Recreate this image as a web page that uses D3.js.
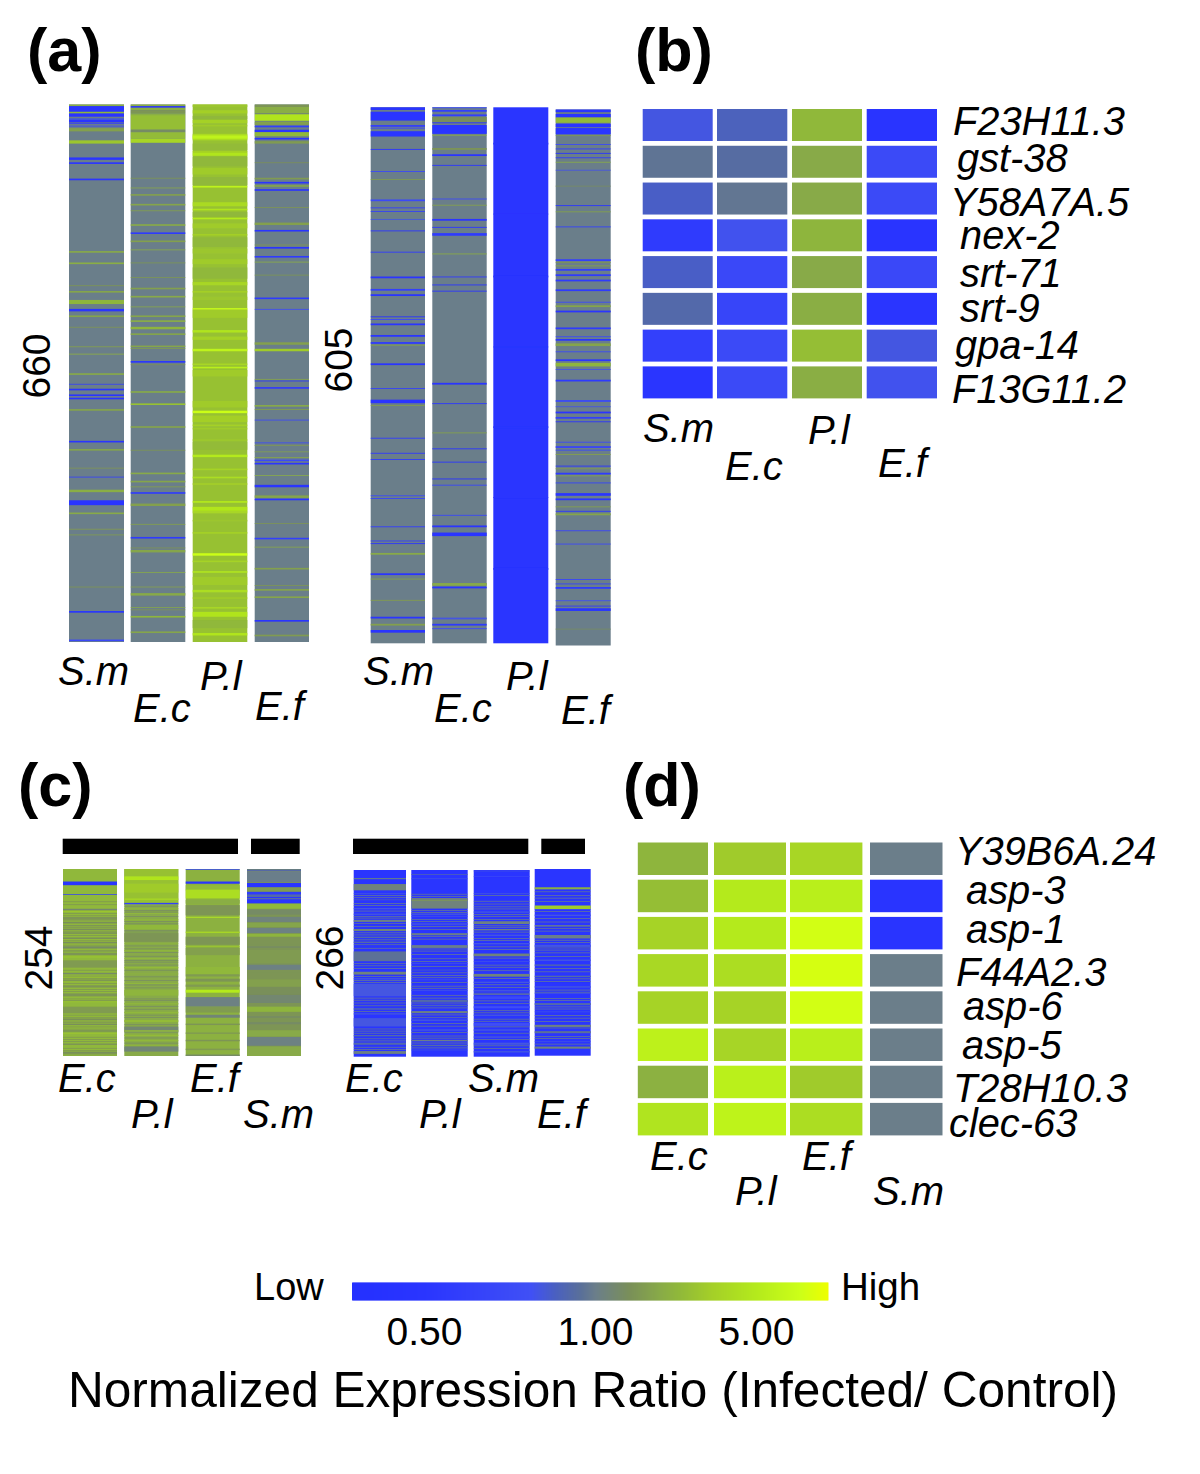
<!DOCTYPE html>
<html><head><meta charset="utf-8">
<script src="https://cdn.jsdelivr.net/npm/d3@7"></script>
<style>html,body{margin:0;background:#fff}svg{display:block}text{font-family:"Liberation Sans",Arial,sans-serif;fill:#000}</style>
</head><body><svg id="c" width="1200" height="1474"><defs><filter id="soft" x="-2%" y="-2%" width="104%" height="104%"><feGaussianBlur stdDeviation="0.35"/></filter></defs></svg>
<script>
// ---------- data: each column = base ratio + stripes [firstRow, rowSpan, ratio] ----------
const a1Sm=[[0,2,2],[2,7,.4],[9,2,2.2],[11,4,.4],[17,2,.8],[19,3,.4],[23,1,.6],[26,1,.7],[29,4,1.7],[44,4,2.8],[65,3,.4],[71,2,.5],[91,2,.45],[180,2,1.9],[194,2,2],[222,1,1.5],[229,2,1.8],[240,5,2.2],[251,3,.45],[259,2,1.8],[273,1,1.5],[297,1,1.7],[306,1,2],[330,2,1.9],[343,1,.6],[349,2,.5],[356,2,.5],[360,2,.45],[374,2,1.8],[413,2,.5],[423,2,1.8],[446,1,1.5],[457,1,.6],[473,3,2],[486,6,.5],[501,2,1.9],[521,1,1.6],[528,1,1.6],[592,1,1.5],[622,2,.5],[657,2,.7]];
const a1Ec=[[0,2,2],[2,2,.45],[4,3,2],[7,4,1.5],[11,2,2],[13,18,2.5],[31,3,1.3],[34,8,2.4],[42,5,3.5],[90,1,1.5],[102,1,1.8],[110,2,1.7],[122,2,1.8],[130,1,1.7],[147,2,1.9],[157,2,.55],[167,2,1.7],[178,1,1.9],[194,1,1.5],[212,1,1.5],[225,2,1.7],[235,2,1.9],[248,1,1.8],[259,2,1.8],[265,2,2],[273,3,2.2],[281,2,1.8],[296,2,1.8],[299,1,1.6],[315,2,.5],[319,1,1.4],[352,2,1.9],[367,2,2.6],[395,2,1.8],[424,1,1.5],[452,2,1.9],[462,2,1.8],[469,1,1.7],[476,2,.55],[490,3,1.7],[515,1,1.7],[531,2,.55],[544,1,1.5],[547,3,1.8],[574,1,1.9],[592,1,1.7],[600,3,1.9],[617,1,1.8],[620,1,1.5],[628,2,2.2],[647,2,1.8]];
const a1Pl=[[14,4,2.3],[48,8,2.4],[64,12,2.3],[89,10,2.3],[132,6,2.3],[163,12,2.3],[200,14,2.3],[414,10,2.4],[633,10,2.3],[0,3,2.8],[7,4,3.2],[19,4,3.3],[25,2,3],[36,8,3.8],[38,4,6],[57,2,3.3],[59,4,4.6],[78,8,3],[100,2,6],[120,5,3.8],[128,2,4.5],[139,2,5],[146,6,3],[159,2,3.2],[177,6,2.8],[190,6,3],[218,4,3.6],[229,2,3.2],[236,4,2.8],[250,2,7],[252,10,3],[277,3,4.5],[285,4,3.3],[300,3,6],[318,2,3.6],[322,2,5.5],[326,8,3],[364,8,3],[376,3,7.5],[382,8,3.2],[393,2,3.3],[397,2,3],[411,2,2.9],[430,3,5],[447,2,3.4],[457,2,4],[465,2,3.2],[487,2,5],[494,5,4.6],[499,3,3.6],[510,2,2.8],[525,2,3.3],[551,3,7.5],[560,2,3.4],[573,2,4.5],[580,10,3],[596,3,4],[605,2,3],[617,2,3.6],[623,6,4.5],[649,3,4.6]];
const a1Ef=[[0,3,1.5],[3,8,2],[11,1,1.2],[12,8,4.5],[21,4,1.7],[26,2,.6],[31,3,.4],[34,5,2.3],[41,2,.4],[45,3,1.6],[71,1,1.4],[90,2,1.6],[95,2,.5],[99,2,1.8],[104,2,.5],[126,1,1.5],[145,3,1.7],[154,2,.5],[172,1,1.5],[175,2,.45],[186,2,.55],[193,1,2],[209,1,1.5],[237,2,.55],[251,1,.7],[292,3,1.7],[300,3,3],[337,1,1.8],[339,1,.5],[347,2,.55],[369,2,1.9],[374,1,1.7],[387,1,.7],[415,1,.7],[418,1,1.6],[426,1,1.7],[433,1,1.8],[436,2,.7],[440,2,.45],[455,1,1.9],[467,3,.42],[480,3,1.8],[484,2,.5],[514,1,1.5],[532,2,.6],[543,1,1.8],[569,2,1.7],[590,1,1.5],[595,2,1.8],[604,2,1.8],[633,2,.45],[651,2,1.6]];

const a2Sm=[[0,3,.4],[5,10,.4],[20,2,.6],[23,1,.7],[27,6,.4],[47,1,.5],[72,1,.7],[81,1,1.6],[104,2,.7],[113,1,.6],[117,1,.6],[126,1,.8],[139,1,.5],[163,1,.55],[191,2,.5],[205,2,.6],[211,2,.5],[236,1,.5],[239,1,.7],[244,2,.5],[257,2,.5],[265,2,.55],[268,1,1.7],[289,2,.5],[317,1,.6],[330,4,.45],[336,1,1.6],[373,1,.55],[390,1,.55],[397,1,.55],[438,1,.7],[441,1,.65],[473,1,.55],[489,1,.6],[492,1,.5],[503,2,1.9],[526,2,.5],[532,1,1.7],[556,1,1.6],[575,2,.5],[583,2,1.7],[590,3,.5]];
const a2Ec=[[0,1,.6],[3,2,.6],[8,2,.6],[11,6,1.4],[17,1,.5],[20,10,.4],[31,1,1.9],[46,2,1.5],[53,2,.5],[65,1,.45],[103,1,.7],[110,1,1.7],[126,2,.5],[135,1,.5],[142,3,.55],[165,1,1.9],[191,1,.55],[200,1,.5],[207,1,.5],[311,2,.45],[334,1,.5],[367,1,1.7],[385,1,.5],[400,1,.5],[419,1,.45],[426,1,.65],[460,1,.65],[472,2,.45],[480,4,.42],[537,3,1.9],[541,2,.5],[576,2,.8],[583,2,.55],[588,1,.7]];
const a2Pl=[[40,2,.5],[120,1,.5],[190,2,.5],[270,1,.5],[360,2,.5],[440,1,.5],[520,2,.5]];
const a2Ef=[[0,3,.4],[5,4,.4],[9,6,2.4],[16,4,.45],[21,7,.4],[29,1,1.5],[39,1,.7],[44,1,.6],[49,1,.5],[54,1,.55],[59,1,1.9],[68,1,.8],[86,1,1.3],[108,1,.5],[115,1,1.7],[132,1,.6],[169,2,.6],[172,1,1.5],[176,1,1.7],[180,2,.6],[186,2,.55],[192,2,.55],[203,2,.55],[217,1,.7],[221,2,1.8],[227,2,.5],[246,2,.55],[256,1,.7],[259,2,.5],[264,3,1.8],[273,1,.7],[282,2,.5],[286,4,2.2],[293,1,.8],[305,2,.55],[328,2,.7],[335,1,.8],[341,2,.5],[347,2,.6],[352,1,.5],[375,1,.7],[380,2,.65],[384,1,.7],[389,1,1.7],[402,1,.5],[405,1,1.6],[410,2,.55],[413,1,1.7],[421,1,.6],[433,3,.42],[439,2,.5],[448,1,1.7],[453,1,.5],[456,2,1.8],[475,1,.65],[490,1,.7],[530,1,.65],[535,1,.6],[539,2,.55],[554,1,.75],[560,1,.55],[563,3,.42],[586,1,1.3]];

const c1Ec=[[17,5,.5],[34,1,.6],[54,2,1.2],[57,1,3],[65,4,1.5],[72,2,1.4],[76,2,1.5],[81,2,1.4],[86,2,1.4],[93,2,1.4],[99,2,1.4],[105,3,1.3],[114,3,1.5],[119,1,3],[124,10,1.6],[141,2,1.3],[146,1,3],[150,2,1.5],[158,3,1.5],[169,4,1.5],[180,1,2.8],[187,9,1.6],[203,2,1.4],[210,2,1.4],[219,2,1.4],[223,1,2.8],[237,2,1.5],[248,3,1.4]];
const c1Pl=[[0,49,2.6],[10,5,4.5],[20,12,3],[40,2,3.5],[46,2,.6],[53,2,2.2],[60,1,2.4],[68,2,2.2],[76,6,2.3],[87,12,1.5],[101,1,2.2],[110,2,2.2],[121,1,2.4],[133,2,2.4],[142,1,2.2],[155,1,2.4],[164,8,2.2],[182,2,2.2],[194,2,2.3],[205,3,2.4],[214,8,1.2],[219,2,2.4],[225,2,2.4],[232,2,2.3],[239,1,2.3],[241,7,1.15]];
const c1Ef=[[0,1,.6],[17,3,.45],[22,7,2.4],[28,12,4],[42,5,2],[49,14,1.5],[65,1,6],[85,2,3.5],[92,11,1.5],[105,1,3],[107,10,1.7],[133,10,2.3],[143,3,1.6],[149,4,1.5],[157,3,1.6],[164,4,5],[174,13,1.05],[187,8,1.6],[198,4,1.15],[210,2,1.5],[222,2,1.6],[232,2,1.5],[244,2,1.6],[252,2,1.3]];
const c1Sm=[[1,1,.5],[3,15,1],[19,6,.42],[25,6,1.6],[31,4,.55],[35,3,.9],[38,2,.5],[41,6,.5],[47,7,2.3],[55,7,1.3],[65,7,1.1],[73,6,1.8],[80,7,1.05],[88,4,2.2],[94,9,1.5],[105,2,1.3],[110,18,1.6],[130,7,1.05],[140,9,1.5],[150,11,1.7],[160,11,1.4],[171,11,1.2],[187,7,2.2],[200,2,1.3],[208,3,1.3],[219,9,1.9],[228,12,1.05],[241,13,1.9]];
const c2Ec=[[12,1,2],[20,9,1.1],[33,1,.8],[42,1,.9],[54,2,.8],[62,2,.8],[71,3,1],[84,3,1.1],[95,2,.9],[102,2,.9],[116,14,.95],[145,4,1.1],[154,2,.8],[162,18,.8],[197,2,.9],[204,2,.8],[211,12,.8],[235,2,.9],[246,3,.9],[258,4,1.05]];
const c2Pl=[[6,1,.9],[12,1,.8],[40,15,1.1],[43,1,1.6],[62,2,.8],[66,1,.8],[76,2,.8],[90,3,1],[107,4,1],[133,1,.8],[142,1,.9],[156,1,.8],[171,1,.8],[185,3,.9],[192,2,.85],[201,3,1.05],[213,2,.8],[227,2,.8],[242,2,1],[249,2,.9],[256,1,.8]];
const c2Sm=[[1,1,.8],[9,1,.7],[33,1,.8],[59,2,.8],[73,4,1.05],[84,2,1],[92,2,.8],[104,2,.8],[119,4,1.1],[130,1,.8],[148,4,1.1],[159,2,.8],[171,2,.8],[180,4,.7],[194,3,.75],[206,2,.8],[218,4,.75],[227,2,.8],[237,2,.8],[246,3,.8],[258,2,.8]];
const c2Ef=[[26,3,2],[46,1,1],[52,5,3],[57,1,.8],[65,2,.8],[80,2,1],[94,5,1],[108,3,.8],[129,2,.8],[136,2,.9],[152,2,.9],[167,2,.8],[177,1,.8],[191,3,.9],[203,1,.8],[222,3,1.05],[231,3,.95],[245,1,.8],[253,3,1.1]];
// single grey rows between the blue ones (c) right
const c2EcThin=[36,39,47,50,58,66,68,76,80,89,92,99,106,111,133,136,140,151,157,160,182,185,189,193,201,226,229,232,240,243,252,255];
const c2PlThin=[34,37,57,60,70,73,80,84,94,98,112,115,120,126,130,137,146,150,153,160,165,168,178,182,189,196,206,210,218,222,231,236,239,246,253];
const c2SmThin=[36,44,48,52,55,63,66,70,79,81,88,97,100,109,113,125,135,138,143,154,163,167,175,177,186,190,200,203,212,215,223,232,241,250,254];
const c2EfThin=[32,37,41,60,70,75,84,88,101,104,112,115,119,124,141,146,156,160,172,175,184,187,196,199,208,212,217,226,238,241,249];
// single grey-green rows inside the green blocks of panel (c) left
const c1EcThin=[44,48,60,63,70,79,84,90,97,103,110,112,137,145,148,155,163,166,176,178,198,201,206,208,214,217,228,231,234,243,246,252];
const c1PlThin=[50,56,58,64,71,74,83,85,104,108,113,118,124,126,130,137,146,151,157,161,176,178,186,190,198,201,211,229,236];

const bGenes=["F23H11.3","gst-38","Y58A7A.5","nex-2","srt-71","srt-9","gpa-14","F13G11.2"];
const bSm=[.8,.96,.84,.55,.84,.9,.6,.5];
const bEc=[.86,.92,.97,.78,.68,.65,.7,.7];
const bPl=[2.3,1.9,1.9,2.2,1.9,2,2.5,2];
const bEf=[.4,.7,.7,.4,.68,.5,.8,.78];

const dGenes=["Y39B6A.24","asp-3","asp-1","F44A2.3","asp-6","asp-5","T28H10.3","clec-63"];
const dEc=[2.2,2.5,3.4,3.7,3.4,5.8,2.1,4.5];
const dPl=[3,5,5,4,3.4,3.5,5.6,6];
const dEf=[3.6,5.5,8,8.2,8,5.5,3,4];
const dSm=[1,.4,.4,1,1,1,1,1];

const legendTicks=[.5,1,5];
const colorStops=[.2,.5,.77,.85,.945,1,1.42,1.9,2.3,3.19,5,7.6,10];
const colorRange=["#2430ff","#2a35ff","#4050f5","#4a60c0","#5a7098","#6b7e8a","#7a9058","#88aa48","#90b83a","#a4cf28","#b4ea1c","#ccff18","#eeff00"];

// ---------- scales and layout ----------
const color=d3.scaleLog().domain(colorStops).range(colorRange).clamp(true);
const svg=d3.select("#c");
const thin=(rows,ratio)=>rows.map(r=>[r,1,ratio]);

const stripePanels=[
 {n:660,y:[104.5,642],cols:[[a1Sm,1,69,124,0],[a1Ec,1,130.7,185.3,0],[a1Pl,2.6,192.7,247.3,0],[a1Ef,1,254.7,309,0]]},
 {n:605,y:[107.3,643.3],cols:[[a2Sm,1,370.7,425,0],[a2Ec,1,432.3,486.7,0],[a2Pl,.4,493.3,548.3,0],[a2Ef,1,555.7,610.7,2.2]]},
 {n:254,y:[869,1056],cols:[[c1Ec.concat(thin(c1EcThin,1.5)),2.3,63,117,0],[c1Pl.concat(thin(c1PlThin,1.3)),1.9,124.3,178.3,0],[c1Ef,2.1,185.7,239.7,0],[c1Sm,1.5,247,301,0]]},
 {n:266,y:[870,1056.7],cols:[[c2Ec.concat(thin(c2EcThin,1)),.45,353.7,406,0],[c2Pl.concat(thin(c2PlThin,1)),.45,411.3,467.7,0],[c2Sm.concat(thin(c2SmThin,1)),.45,473.7,529.7,0],[c2Ef.concat(thin(c2EfThin,1)),.45,534.7,590.7,-1]]}
];
stripePanels.forEach(p=>{
 p.cols.forEach(([stripes,base,x0,x1,dy])=>{
  const y=d3.scaleLinear().domain([0,p.n]).range([p.y[0]+dy,p.y[1]+dy]);
  const g=svg.append("g").attr("filter","url(#soft)");
  g.append("rect").attr("x",x0).attr("width",x1-x0).attr("y",y(0)).attr("height",y(p.n)-y(0)).attr("fill",color(base));
  g.selectAll("rect.s").data(stripes).join("rect").attr("class","s")
   .attr("x",x0).attr("width",x1-x0)
   .attr("y",d=>y(d[0])).attr("height",d=>y(d[0]+d[1])-y(d[0]))
   .attr("fill",d=>color(d[2]));
 });
});

function matrix(cols,genes,xs,y0,pitch,h){
 const y=d3.scaleBand().domain(genes).range([y0,y0+pitch*genes.length]);
 cols.forEach((vals,i)=>{
  svg.append("g").selectAll("rect").data(vals).join("rect")
   .attr("x",xs[i][0]).attr("width",xs[i][1]-xs[i][0])
   .attr("y",(d,j)=>y(genes[j])).attr("height",h)
   .attr("fill",d=>color(d));
 });
}
matrix([bSm,bEc,bPl,bEf],bGenes,[[642.7,712.7],[717,787.3],[792,862],[866.7,937]],109,36.77,32);
matrix([dEc,dPl,dEf,dSm],dGenes,[[637.8,708],[714,786],[790,862.4],[870,942.5]],842.5,37.2,32.5);

// black bars in (c)
[[62.7,238],[251,299.7],[353,528.3],[541.3,585]].forEach(([a,b])=>svg.append("rect").attr("x",a).attr("width",b-a).attr("y",838.7).attr("height",15.3).attr("fill","#000"));

function label(t,x,y,size,opts={}){
 const e=svg.append("text").text(t).attr("x",x).attr("y",y).attr("font-size",size);
 if(opts.italic)e.attr("font-style","italic");
 if(opts.bold)e.attr("font-weight","bold");
 if(opts.anchor)e.attr("text-anchor",opts.anchor);
 if(opts.rot)e.attr("transform",`rotate(-90 ${x} ${y})`);
 return e;
}
[["(a)",27,71],["(b)",635,71],["(c)",18,806],["(d)",623,806]].forEach(d=>label(d[0],d[1],d[2],61,{bold:true}));
[["660",50,366],["605",352,360],["254",52,958],["266",343,958]].forEach(d=>label(d[0],d[1],d[2],39,{rot:true,anchor:"middle"}));

const colLabels=[["S.m",58,685],["E.c",133,722],["P.l",200,690],["E.f",255,720],
 ["S.m",363,685],["E.c",434,722],["P.l",506,690],["E.f",561,724],
 ["S.m",643,442],["E.c",725,480],["P.l",808,444],["E.f",878,477],
 ["E.c",58,1092],["P.l",131,1128],["E.f",190,1092],["S.m",243,1128],
 ["E.c",345,1092],["P.l",419,1128],["S.m",468,1092],["E.f",537,1128],
 ["E.c",650,1170],["P.l",735,1205],["E.f",802,1170],["S.m",873,1205]];
colLabels.forEach(d=>label(d[0],d[1],d[2],40,{italic:true}));

const bPos=[[953,135],[957,172],[950,216],[960,249],[960,287],[960,322],[955,359],[952,403]];
bGenes.forEach((g,i)=>label(g,bPos[i][0],bPos[i][1],39.8,{italic:true}));
const dPos=[[955,865],[966,904],[966,943],[956,986],[963,1020],[962,1059],[953,1102],[949,1137]];
dGenes.forEach((g,i)=>label(g,dPos[i][0],dPos[i][1],39.8,{italic:true}));

// legend
const legendX=d3.scaleLog().domain([.2,.5,1,5,10]).range([352,424,595,756,828]);
const legendY=[1282.5,1300.5];
const samples=d3.range(352,828,1);
svg.append("g").selectAll("rect").data(samples).join("rect")
 .attr("x",d=>d).attr("width",1.5).attr("y",legendY[0]).attr("height",legendY[1]-legendY[0])
 .attr("fill",d=>color(legendX.invert(d)));
const ax=svg.append("g").attr("transform","translate(0,1345)")
 .call(d3.axisBottom(legendX).tickValues(legendTicks).tickFormat(d3.format(".2f")).tickSize(0).tickPadding(0));
ax.select(".domain").remove();
ax.selectAll("text").attr("font-size",39).attr("dy",0).attr("font-family",'"Liberation Sans"').attr("fill","#000");
label("Low",254,1300,38);
label("High",841,1300,38.5);
label("Normalized Expression Ratio (Infected/ Control)",593,1407,49.6,{anchor:"middle"});
</script></body></html>
